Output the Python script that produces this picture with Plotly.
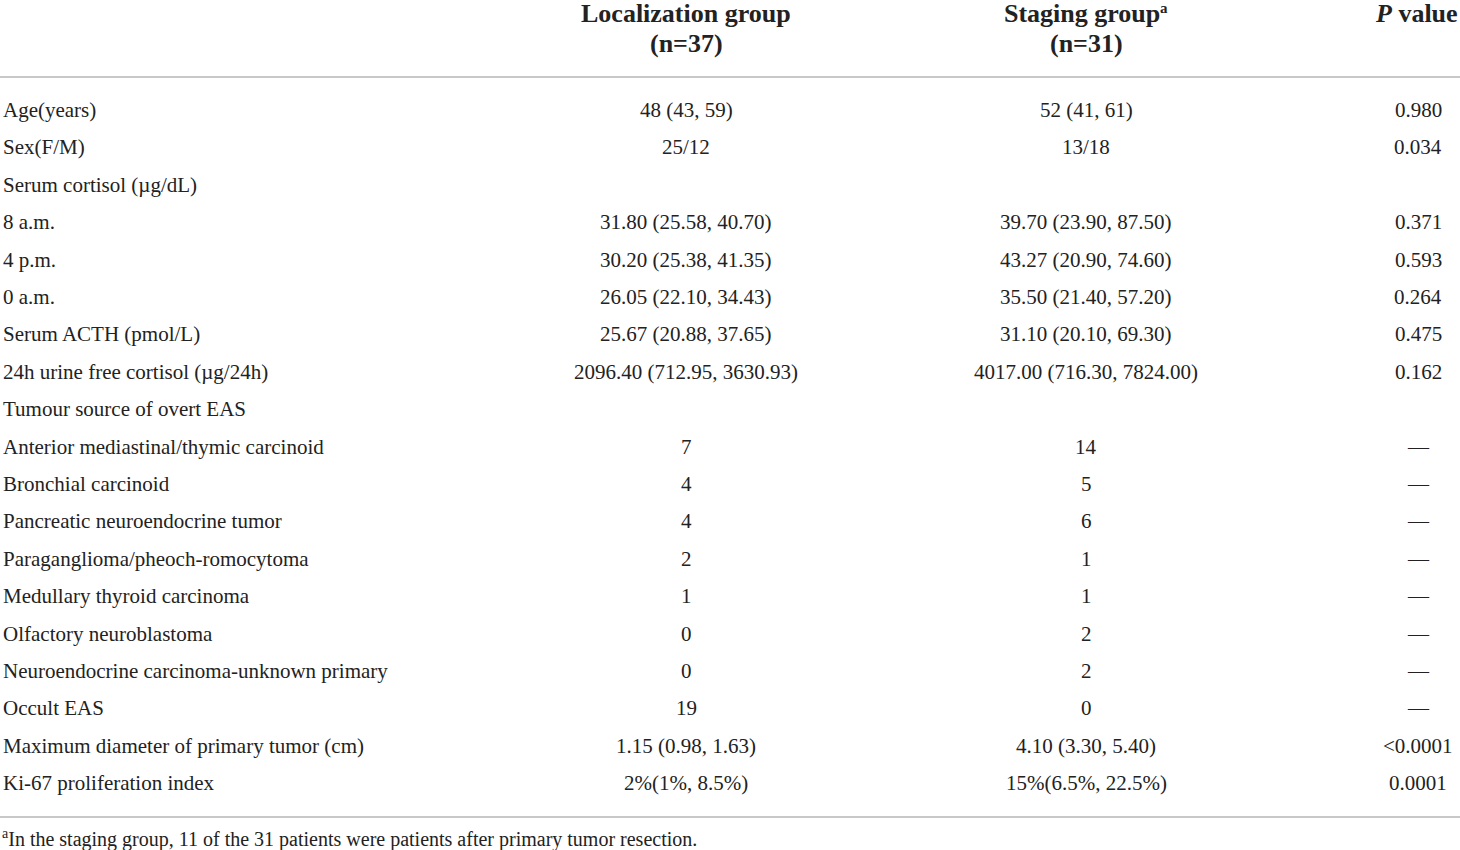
import plotly.graph_objects as go

# dados da tabela
row_labels = [
    "Age(years)", "Sex(F/M)", "Serum cortisol (µg/dL)", "8 a.m.", "4 p.m.", "0 a.m.",
    "Serum ACTH (pmol/L)", "24h urine free cortisol (µg/24h)", "Tumour source of overt EAS",
    "Anterior mediastinal/thymic carcinoid", "Bronchial carcinoid",
    "Pancreatic neuroendocrine tumor", "Paraganglioma/pheoch-romocytoma",
    "Medullary thyroid carcinoma", "Olfactory neuroblastoma",
    "Neuroendocrine carcinoma-unknown primary", "Occult EAS",
    "Maximum diameter of primary tumor (cm)", "Ki-67 proliferation index",
]
loc_values = [
    "48 (43, 59)", "25/12", "", "31.80 (25.58, 40.70)", "30.20 (25.38, 41.35)",
    "26.05 (22.10, 34.43)", "25.67 (20.88, 37.65)", "2096.40 (712.95, 3630.93)", "",
    "7", "4", "4", "2", "1", "0", "0", "19", "1.15 (0.98, 1.63)", "2%(1%, 8.5%)",
]
stag_values = [
    "52 (41, 61)", "13/18", "", "39.70 (23.90, 87.50)", "43.27 (20.90, 74.60)",
    "35.50 (21.40, 57.20)", "31.10 (20.10, 69.30)", "4017.00 (716.30, 7824.00)", "",
    "14", "5", "6", "1", "1", "2", "2", "0", "4.10 (3.30, 5.40)", "15%(6.5%, 22.5%)",
]
p_values = [
    "0.980", "0.034", "", "0.371", "0.593", "0.264", "0.475", "0.162", "",
    "—", "—", "—", "—", "—", "—", "—", "—", "<0.0001", "0.0001",
]
header_line1 = ["Localization group", "Staging group", "<i>P</i> value"]
header_line2 = ["(n=37)", "(n=31)", ""]
footnote = "<sup>a</sup>In the staging group, 11 of the 31 patients were patients after primary tumor resection."

W, H = 1460, 850
col_x = [686, 1086, 1418]
y0, dy = 110, 37.4
font = dict(family="Liberation Serif", size=21, color="#222")

fig = go.Figure()
ann = []
for i, lab in enumerate(row_labels):
    y = y0 + i * dy
    ann.append(dict(x=1, y=y, text=lab, xanchor="left", yanchor="middle", font=font))
    for cx, vals in zip(col_x, [loc_values, stag_values, p_values]):
        if vals[i]:
            ann.append(dict(x=cx, y=y, text=vals[i], xanchor="center", yanchor="middle", font=font))

# cabecalho
hfont = dict(family="Liberation Serif", size=26, color="#222")
for j in range(3):
    if j < 2:
        hx, anc = col_x[j] - (4 if j == 1 else 0), "center"
    else:
        hx, anc = W, "right"
    ann.append(dict(x=hx, y=13, text="<b>" + header_line1[j] + "</b>", xanchor=anc,
                    yanchor="middle", font=hfont))
    if header_line2[j]:
        ann.append(dict(x=col_x[j], y=43, text="<b>" + header_line2[j] + "</b>", xanchor=anc,
                        yanchor="middle", font=hfont))
# sobrescrito "a" do staging group
ann.append(dict(x=col_x[1] + 72, y=8, text="<b>a</b>", xanchor="left", yanchor="middle",
                font=dict(family="Liberation Serif", size=15, color="#222")))

ann.append(dict(x=0, y=838, text=footnote, xanchor="left", yanchor="middle",
                font=dict(family="Liberation Serif", size=20, color="#222")))

for a in ann:
    a.update(xref="x", yref="y", showarrow=False)

fig.update_layout(
    width=W, height=H, margin=dict(l=0, r=0, t=0, b=0),
    plot_bgcolor="white", paper_bgcolor="white",
    xaxis=dict(range=[0, W], visible=False, fixedrange=True),
    yaxis=dict(range=[H, 0], visible=False, fixedrange=True),
    annotations=ann,
    shapes=[
        dict(type="line", xref="x", yref="y", x0=0, x1=W, y0=77, y1=77,
             line=dict(color="#c8c8c8", width=2)),
        dict(type="line", xref="x", yref="y", x0=0, x1=W, y0=817, y1=817,
             line=dict(color="#c8c8c8", width=2)),
    ],
    showlegend=False,
)
fig.write_html("out.html", config={"displayModeBar": False},
               post_script="document.body.style.margin='0';")
